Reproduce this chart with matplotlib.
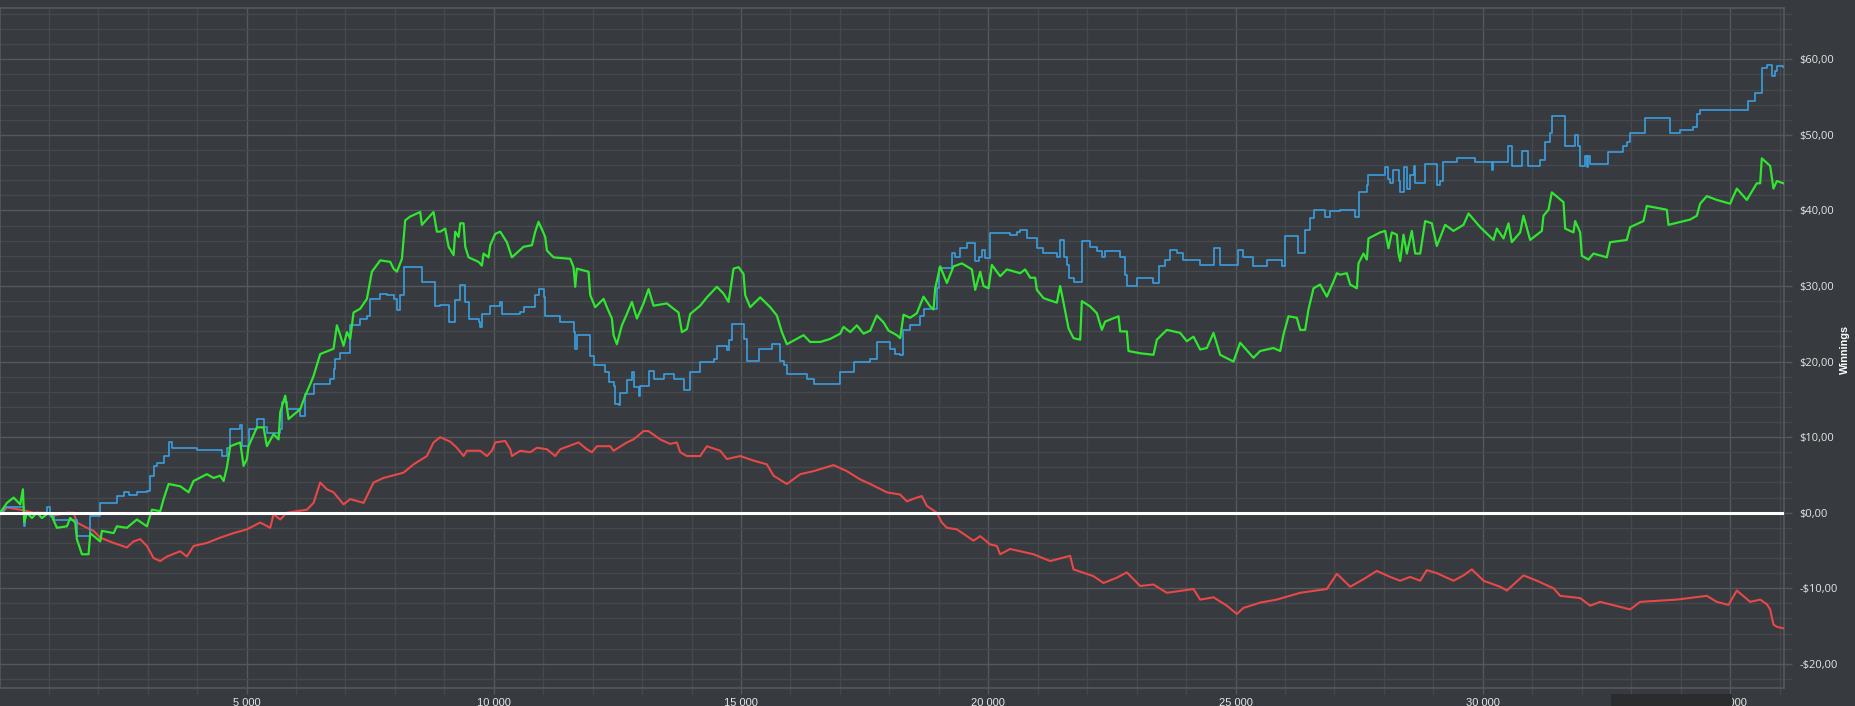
import matplotlib
matplotlib.use("Agg")
import matplotlib.pyplot as plt
from matplotlib.ticker import MultipleLocator, FuncFormatter
from matplotlib.patches import Rectangle

# ---------------- data (hands, winnings in $) ----------------
blue_hands = [20, 87, 492, 525, 964, 1018, 1098, 1570, 1840, 2042, 2379, 2514, 2615, 2783, 2986, 3053,
              3120, 3188, 3323, 3424, 3491, 3997, 4502, 4603, 4671, 4873, 4907, 5041, 5210, 5345, 5412,
              5682, 5715, 5816, 6086, 6187, 6356, 6693, 6760, 6794, 6895, 7097, 7299, 7434, 7501, 7704,
              7838, 7973, 8041, 8108, 8175, 8546, 8816,
              8917, 9086, 9220, 9321, 9423, 9490, 9692, 9726, 9760, 9928, 10130, 10164, 10535, 10602,
              10838, 10905, 11006, 11040, 11343, 11613, 11647, 11680, 11950, 12017, 12253, 12321, 12422,
              12456, 12523, 12557, 12691, 12793, 12826, 12927, 12961, 13130, 13230, 13433, 13635, 13837,
              13972, 14174, 14444, 14511, 14713, 14747, 14815, 15050, 15118, 15354, 15623, 15792, 15859,
              15927, 16331, 16466, 17005, 17275, 17612, 17746, 18016, 18117,
              18218, 18285, 18420, 18622, 18690, 18959, 18993, 19263, 19330, 19431, 19566, 19735, 19802,
              19869, 19937, 20038, 20442, 20577, 20644, 20779, 20981, 21116, 21386, 21453, 21521, 21588,
              21622, 21723, 21891, 22060, 22195, 22296, 22363, 22666, 22768, 22801, 23003, 23340, 23442,
              23576, 23677, 23812, 23947, 24284, 24554, 24688, 25059, 25160, 25362, 25632, 25935, 26003,
              26272, 26407, 26508, 26576, 26811, 26913,
              27115, 27418, 27486, 27654, 27688, 28025, 28092, 28126, 28193, 28295, 28328, 28396, 28463,
              28530, 28598, 28632, 28834, 29070, 29137, 29204, 29474, 29845, 30182, 30215, 30519, 30586,
              30788, 30923, 31159, 31260, 31361, 31395, 31665, 31867, 31934, 31968, 32069, 32103, 32136,
              32170, 32541, 32844, 32911, 32979, 33282, 33788, 33990, 34259, 34327, 34394, 35372, 35506,
              35641, 35742, 35843, 35911, 35945, 36079]
blue_vals = [0.2, 0.7, -1.8, 0.0, 0.7, -0.4, -0.9, -3.1, -0.4, 1.3, 2.2, 2.7, 2.4, 2.7, 2.9, 4.9,
             6.2, 6.6, 7.5, 9.3, 8.6, 8.3, 7.5, 8.6, 11.1, 11.6, 8.8, 11.1, 12.4, 11.3, 10.6,
             11.1, 14.6, 13.7, 12.8, 15.7, 17.0, 17.7, 19.0, 20.4, 21.2, 24.8, 25.7, 26.1, 28.3, 29.0,
             28.8, 28.3, 26.8, 28.8, 32.5, 30.5, 27.4,
             27.5, 25.2, 28.1, 30.1, 27.9, 25.7, 25.2, 24.6, 26.3, 27.4, 27.9, 26.3, 26.5, 27.2,
             28.8, 29.6, 28.5, 26.1, 25.2, 23.9, 21.7, 23.5, 20.8, 19.5, 18.6, 17.3, 16.8,
             14.4, 14.2, 15.9, 17.5, 18.6, 16.6, 15.5, 16.8, 18.8, 17.7, 18.4, 17.7, 16.2,
             18.6, 19.9, 20.4, 22.1, 21.5, 22.8, 25.0, 23.0, 20.1, 21.7, 22.3, 20.1, 19.5,
             18.4, 17.7, 17.0, 18.6, 19.9, 20.4, 22.6, 21.7, 21.0,
             20.9, 24.2, 24.9, 26.0, 26.9, 29.7, 32.4, 34.4, 33.9, 35.0, 35.7, 33.3, 33.9,
             34.8, 33.7, 37.0, 36.8, 37.2, 37.4, 36.3, 35.0, 34.4, 33.9, 36.1, 33.9, 32.8,
             31.1, 30.6, 35.9, 35.2, 34.6, 33.9, 34.6, 33.9, 31.5, 30.0, 31.1, 30.4, 32.6,
             33.5, 34.8, 34.4, 33.5, 32.8, 35.0, 32.8, 34.8, 33.9, 32.6, 33.5, 32.6, 36.6,
             34.4, 37.4, 39.0, 40.1, 39.2, 39.9,
             40.1, 39.1, 42.4, 43.4, 44.7, 45.7, 44.2, 43.6, 45.4, 43.9, 42.4, 45.7, 42.9,
             44.7, 45.9, 43.6, 46.2, 43.4, 43.9, 46.4, 47.0, 46.4, 45.4, 46.4, 48.5, 45.9,
             47.9, 45.9, 46.7, 49.0, 50.2, 52.5, 48.5, 50.0, 48.5, 45.9, 47.2, 45.7, 47.2,
             46.2, 47.7, 48.5, 49.0, 50.2, 52.3, 50.2, 50.7, 51.0, 52.8, 53.3, 54.5, 55.5,
             58.8, 59.2, 57.8, 58.5, 59.1, 59.0]

green_hands = [20, 155, 290, 424, 478, 505, 559, 660, 761, 862, 964, 1031, 1166, 1368, 1435, 1537, 1570,
               1671, 1806, 1840, 2042, 2076, 2312, 2379, 2581, 2783, 2986, 3087, 3255, 3323, 3424, 3660,
               3828, 3929, 4199, 4334, 4468, 4536, 4603, 4671, 4873, 4940, 5008, 5041, 5210, 5345, 5412,
               5547, 5648, 5682, 5783, 5850, 6086, 6187, 6288, 6356, 6490, 6760, 6827, 6895, 6962, 7030,
               7097, 7164, 7299, 7434, 7535, 7704, 7906, 7973, 8041, 8142, 8209, 8310, 8512, 8546, 8782,
               8849,
               8917, 9018, 9086, 9187, 9220, 9288, 9321, 9389, 9423, 9490, 9692, 9760, 9793, 9894, 9928,
               10029, 10130, 10265, 10366, 10602, 10771, 10838, 10905, 11040, 11074, 11208, 11546, 11613,
               11647, 11680, 11916, 11950, 12051, 12220, 12287, 12388, 12422, 12489, 12590, 12691, 12793,
               12894, 13028, 13130, 13230, 13500, 13635, 13736, 13804, 13905, 13972, 14174, 14309, 14511,
               14646, 14747, 14848, 14949, 15050, 15084, 15185, 15387, 15590, 15724, 15826, 15927, 16264,
               16398, 16601, 16803, 17005, 17072, 17207, 17342, 17477, 17612, 17746, 17881, 17982, 18151,
               18218, 18285, 18420, 18555, 18690, 18825, 18892, 18926, 19027, 19162, 19296, 19465, 19667,
               19735, 19836, 19903, 20004, 20072, 20240, 20375, 20644, 20745, 20847, 20948, 20981, 21116,
               21386, 21453, 21521, 21622, 21723, 21858, 21891, 22060, 22195, 22296, 22363, 22633, 22666,
               22801, 22835, 23071, 23340, 23408, 23610, 23880, 24014, 24149, 24284, 24419, 24554, 24688,
               24958, 25093, 25362, 25497, 25767, 25902, 25969, 26070, 26239, 26306, 26407, 26474, 26576,
               26710, 26845, 26980, 27047,
               27115, 27250, 27317, 27452, 27486, 27587, 27654, 27688, 27924, 28025, 28092, 28160, 28261,
               28295, 28328, 28396, 28463, 28564, 28632, 28733, 28834, 28969, 29070, 29238, 29407, 29609,
               29710, 29946, 30215, 30283, 30418, 30519, 30586, 30755, 30822, 30957, 31193, 31226, 31328,
               31395, 31631, 31665, 31833, 31867, 31968, 32002, 32136, 32237, 32507, 32574, 32911, 32979,
               33248, 33316, 33720, 33754, 34192, 34327, 34394, 34529, 34731, 35001, 35136, 35338, 35540,
               35608, 35641, 35810, 35877, 35945, 36079]
green_vals = [0.0, 1.3, 2.0, 1.1, 3.1, -1.3, 0.0, -0.7, 0.0, -0.7, -0.2, 0.0, -2.0, -1.8, -0.7, -1.3, -3.5,
              -5.5, -5.5, -2.7, -3.8, -2.4, -2.7, -1.8, -2.0, -0.9, -1.8, 0.4, 0.2, 1.8, 3.8, 3.5,
              2.7, 4.2, 5.1, 4.6, 4.9, 4.2, 6.0, 8.8, 9.3, 6.2, 7.1, 8.8, 11.3, 11.3, 8.8,
              10.4, 9.7, 13.3, 15.5, 12.4, 13.7, 15.5, 17.0, 18.1, 21.0, 21.7, 24.8, 23.5, 22.1, 23.9,
              23.0, 26.5, 27.0, 28.3, 31.9, 33.4, 33.2, 32.3, 31.9, 33.6, 38.7, 39.2, 39.8, 38.1, 39.8,
              37.2,
              37.2, 37.6, 35.2, 34.1, 37.2, 36.5, 38.3, 38.3, 35.2, 33.8, 33.2, 32.7, 34.3, 33.8, 35.4,
              36.9, 37.2, 35.8, 33.8, 35.2, 35.4, 37.2, 38.5, 36.5, 34.7, 33.8, 33.6, 32.5,
              29.9, 32.3, 31.9, 28.8, 27.2, 28.3, 27.2, 25.7, 23.5, 22.3, 24.8, 26.3, 27.9,
              25.7, 27.7, 29.6, 27.4, 27.7, 27.0, 26.5, 23.9, 24.3, 26.3, 27.4, 28.5, 29.9,
              29.0, 27.9, 32.3, 32.5, 31.6, 28.8, 27.2, 28.5, 27.2, 26.1, 23.9, 22.3, 23.5,
              22.6, 22.6, 23.0, 23.7, 24.6, 23.9, 24.8, 23.7, 24.1, 26.1, 25.2, 24.1, 23.5,
              23.1, 26.2, 25.8, 26.4, 28.6, 27.3, 26.9, 29.7, 32.6, 30.4, 32.6, 33.0, 32.2,
              29.5, 31.9, 30.0, 29.7, 32.8, 31.3, 32.2, 31.7, 32.2, 31.1, 31.1, 29.5, 28.4,
              27.8, 30.0, 27.8, 24.4, 23.1, 22.9, 28.0, 27.3, 26.4, 24.2, 25.3, 26.0, 24.0,
              24.0, 21.4, 21.1, 20.9, 22.9, 24.2, 23.8, 22.7, 23.3, 21.6, 21.8, 23.8, 20.9,
              20.0, 22.5, 20.5, 21.4, 21.8, 21.4, 23.6, 26.0, 25.8, 24.2, 24.2, 26.9, 29.7,
              30.2, 28.6, 30.6, 31.7,
              31.5, 31.7, 30.2, 29.7, 33.0, 34.3, 33.5, 36.3, 37.1, 37.3, 35.0, 37.1, 36.8,
              34.3, 33.3, 36.8, 34.3, 37.3, 34.3, 34.3, 38.6, 38.3, 35.3, 38.1, 37.3, 38.1,
              39.6, 37.8, 36.1, 37.6, 36.3, 38.3, 35.8, 37.1, 39.3, 36.1, 37.3, 39.3, 40.1,
              42.4, 41.1, 37.6, 37.1, 38.6, 37.1, 34.0, 33.5, 34.3, 33.8, 35.8, 36.1, 37.8,
              38.6, 40.6, 40.1, 38.1, 38.8, 39.3, 40.9, 41.9, 41.4, 40.9, 42.9, 41.4, 43.6,
              43.6, 46.9, 45.9, 42.9, 43.9, 43.6]

red_hands = [20, 155, 424, 694, 964, 1098, 1368, 1503, 1570, 1772, 1907, 2042, 2312, 2581, 2716, 2851,
             2986, 3120, 3255, 3390, 3660, 3794, 3929, 4199, 4468, 4738, 5008, 5277, 5479, 5547, 5682,
             5816, 6221, 6356, 6490, 6625, 6760, 6962, 7097, 7367, 7569, 7771, 8175, 8378, 8647, 8782,
             8917, 9119, 9254, 9389, 9456, 9726, 9861, 9962, 10029, 10231, 10332, 10366, 10535, 10737,
             10872, 11074, 11242, 11343, 11714, 11882, 11984, 12085, 12354, 12422, 12691, 12826, 13028,
             13130, 13365, 13568, 13702, 13770, 13905, 14174, 14309, 14579, 14713, 14983, 15253, 15522,
             15657, 15927, 16197, 16466, 16870, 17140, 17410, 17612, 17949,
             18218, 18353, 18555, 18656, 18757, 18959, 19060, 19162, 19364, 19566, 19701, 19836, 20038,
             20173, 20240, 20442, 20914, 21251, 21655, 21723, 22127, 22330, 22599, 22801, 23071, 23340,
             23610, 24149, 24284, 24554, 24823, 25025, 25160, 25497, 25834, 26306, 26845, 27047,
             27115, 27317, 27587, 27856, 28126, 28328, 28530, 28733, 28867, 29070, 29407, 29609, 29777,
             30013, 30350, 30485, 30822, 31092, 31429, 31564, 31968, 32170, 32372, 32979, 33181, 33922,
             34529, 34731, 34967, 35136, 35406, 35608, 35742, 35810, 35877, 35945, 36079]
red_vals = [-0.2, 0.7, 0.4, 0.0, 0.0, -0.4, 0.0, 0.0, -1.3, -2.0, -2.4, -3.3, -4.0, -4.6, -3.8, -3.5,
            -4.4, -6.0, -6.4, -5.8, -5.1, -5.8, -4.4, -4.0, -3.3, -2.7, -2.2, -1.3, -2.0, -0.2, -0.9,
            0.0, 0.4, 1.3, 4.0, 3.1, 2.7, 1.1, 1.8, 1.3, 4.0, 4.6, 5.3, 6.4, 7.5, 9.3,
            10.0, 9.4, 8.6, 7.5, 8.2, 8.2, 7.5, 8.2, 9.3, 9.5, 8.4, 7.5, 8.2, 8.0,
            8.6, 8.4, 7.5, 8.4, 9.3, 8.4, 8.0, 8.8, 8.8, 8.2, 9.3, 9.7, 10.8,
            10.8, 9.7, 9.1, 9.3, 8.0, 7.5, 7.5, 8.8, 8.2, 7.1, 7.5, 6.9, 6.4,
            4.9, 3.8, 5.1, 5.5, 6.3, 5.5, 4.4, 3.8, 2.7,
            2.4, 1.5, 2.0, 2.2, 0.9, 0.0, -1.3, -2.0, -2.2, -3.1, -3.7, -3.1, -4.2,
            -4.4, -5.5, -4.8, -5.5, -6.4, -5.7, -7.5, -8.4, -9.3, -8.6, -7.9, -9.7, -9.5,
            -10.6, -10.1, -11.5, -11.2, -12.3, -13.4, -12.6, -11.9, -11.5, -10.6, -10.1, -8.1,
            -8.5, -9.8, -8.8, -7.7, -8.5, -9.0, -8.5, -9.0, -7.6, -8.0, -9.0, -8.3, -7.5,
            -9.0, -9.8, -10.3, -8.3, -9.0, -10.0, -11.0, -11.3, -12.3, -11.8, -12.8, -11.8, -11.5,
            -11.0, -11.8, -12.2, -10.3, -11.8, -11.5, -12.1, -12.8, -14.8, -15.1, -15.3]

x_major_step = 5000
x_minor_step = 1000
y_major_step = 10
y_minor_step = 2
y_axis_title = "Winnings"

# ---------------- style ----------------
BG = "#373a3e"
GRID_MAJOR = "#55595d"
GRID_MINOR = "#45494c"
TEXT = "#e6e6e6"

W, H = 1856, 706
fig = plt.figure(figsize=(W / 100, H / 100), dpi=100)
fig.patch.set_facecolor(BG)

left, right, top, bottom = 0, 1784, 8, 688
ax = fig.add_axes([left / W, 1 - bottom / H, (right - left) / W, (bottom - top) / H])
ax.set_facecolor(BG)

ax.plot(red_hands, red_vals, color="#e84848", lw=1.5, zorder=3)
ax.plot(blue_hands, blue_vals, color="#3a9ee0", lw=1.2, drawstyle="steps-post", zorder=4)
ax.plot(green_hands, green_vals, color="#30e630", lw=1.6, zorder=5)
ax.axhline(0, color="white", lw=2.2, zorder=6)

ax.set_xlim(15, 36090)
ax.set_ylim(-23.2, 66.8)

ax.xaxis.set_major_locator(MultipleLocator(x_major_step))
ax.xaxis.set_minor_locator(MultipleLocator(x_minor_step))
ax.yaxis.set_major_locator(MultipleLocator(y_major_step))
ax.yaxis.set_minor_locator(MultipleLocator(y_minor_step))

def fmt_x(v, pos):
    if v <= 0:
        return ""
    return f"{int(v):,}".replace(",", " ")

def fmt_y(v, pos):
    s = f"${abs(v):.2f}".replace(".", ",")
    return ("-" + s) if v < -1e-9 else s

ax.xaxis.set_major_formatter(FuncFormatter(fmt_x))
ax.yaxis.set_major_formatter(FuncFormatter(fmt_y))

ax.grid(which="major", color=GRID_MAJOR, lw=1.0, zorder=1)
ax.grid(which="minor", color=GRID_MINOR, lw=1.0, zorder=0.5)
ax.set_axisbelow(True)

ax.yaxis.tick_right()
ax.yaxis.set_label_position("right")
ax.tick_params(axis="y", which="both", length=6, width=1, color=GRID_MAJOR, labelcolor=TEXT,
               labelsize=8, pad=5)
ax.tick_params(axis="y", which="minor", color=GRID_MINOR)
ax.tick_params(axis="x", which="both", length=4, width=1, color=GRID_MAJOR, labelcolor=TEXT,
               labelsize=8, pad=3)
ax.tick_params(axis="x", which="minor", color=GRID_MINOR)
for lab in ax.get_yticklabels():
    lab.set_family(["Open Sans", "DejaVu Sans"])
for lab in ax.get_xticklabels():
    lab.set_family(["Liberation Sans Narrow", "Liberation Sans", "DejaVu Sans"])

for s in ax.spines.values():
    s.set_color(GRID_MAJOR)
    s.set_linewidth(1.2)

fig.text(1845 / W, 1 - 349 / H, y_axis_title, rotation=90, ha="center", va="center",
         color="white", fontsize=7.8, fontweight="bold",
         family=["Liberation Sans Narrow", "Liberation Sans", "DejaVu Sans"])

# dark overlay box at bottom (part of the screenshot UI)
fig.patches.append(Rectangle((1611 / W, 0), (1732 - 1611) / W, (706 - 694) / H,
                             transform=fig.transFigure, facecolor="#2a2c2e",
                             edgecolor="none", zorder=10))

fig.savefig("out.png", dpi=100, facecolor=BG)
